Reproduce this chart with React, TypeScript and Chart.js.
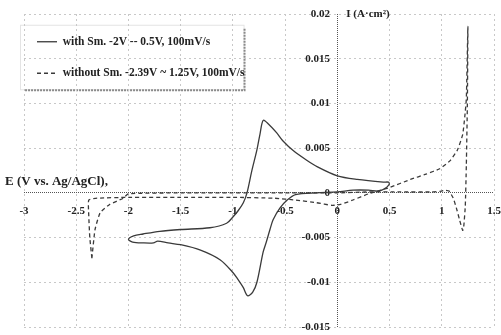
import React, { useEffect, useRef } from 'react';
import { Chart, registerables } from 'chart.js';

Chart.register(...registerables);

// ---- data ----
const withSmE = [
  0.5, 0.47, 0.4, 0.3, 0.15, 0.0, -0.2, -0.4, -0.48, -0.55, -0.615, -0.645, -0.68, -0.71, -0.77, -0.81,
  -0.86, -0.9, -0.95, -1.0, -1.12, -1.31, -1.5, -1.62, -1.72, -1.76, -1.86, -1.96, -2.0,
  -1.95, -1.86, -1.7, -1.5, -1.22, -1.06, -1.0, -0.95, -0.9, -0.865, -0.82, -0.77, -0.74, -0.71,
  -0.66, -0.58, -0.52, -0.42, -0.3, -0.19, 0.0, 0.19, 0.44, 0.49, 0.5,
];
const withSmI = [
  0.001, 0.0006, 0.0002, 0.0003, 0.0003, 0.0001, 0.0, -0.0002, -0.0008, -0.0017, -0.003, -0.0041, -0.0055, -0.0066, -0.01, -0.0111,
  -0.0115, -0.0106, -0.0097, -0.0089, -0.0075, -0.0064, -0.0058, -0.0056, -0.0054, -0.0056, -0.0056, -0.0055, -0.0052,
  -0.0048, -0.0046, -0.0043, -0.0041, -0.0039, -0.0034, -0.0027, -0.002, -0.0011, 0.0, 0.0024, 0.0048, 0.0066, 0.0081,
  0.0077, 0.0067, 0.0058, 0.0047, 0.0037, 0.0029, 0.0019, 0.0015, 0.0012, 0.0012, 0.001,
];
const withoutSmE = [
  -2.35, -2.37, -2.38, -2.38, -2.3, -2.0, -1.5, -1.0, -0.6, -0.4, -0.2, -0.05, 0.03, 0.15, 0.3, 0.5,
  0.7, 0.85, 0.98, 1.08, 1.15, 1.2, 1.22, 1.235, 1.25,
  1.245, 1.235, 1.225, 1.21, 1.2, 1.17, 1.14, 1.11, 1.07, 1.03, 1.0, 0.9, 0.6, 0.3, 0.0,
  -0.5, -1.0, -1.5, -2.0, -2.05, -2.18, -2.27, -2.32, -2.35,
];
const withoutSmI = [
  -0.0073, -0.005, -0.0025, -0.0008, -0.0006, -0.0005, -0.0005, -0.0005, -0.0006, -0.0008, -0.0011, -0.0014, -0.0013, -0.0008, -0.0001, 0.0006,
  0.0015, 0.0021, 0.0027, 0.0036, 0.0048, 0.0065, 0.0085, 0.0105, 0.0186,
  0.01, 0.003, -0.0015, -0.0038, -0.0042, -0.003, -0.0017, -0.0006, 0.0002, 0.0003, 0.0002, 0.0001, 0.0001, 0.0001, 0.0,
  0.0, 0.0, 0.0, -0.0001, -0.0006, -0.0013, -0.0022, -0.0041, -0.0073,
];
const xTicks = [-3, -2.5, -2, -1.5, -1, -0.5, 0, 0.5, 1, 1.5];
const yTicks = [-0.015, -0.01, -0.005, 0, 0.005, 0.01, 0.015, 0.02];
const seriesLabels = ['with Sm. -2V -- 0.5V, 100mV/s', 'without Sm. -2.39V ~ 1.25V, 100mV/s'];
const xTitle = 'E (V vs. Ag/AgCl),';
const yTitle = 'I (A·cm²)';

const FONT = '"Liberation Serif", "Times New Roman", serif';
const INK = '#222';
const LINE = '#3a3a3a';
const LEGEND_SHIFT = { dx: -7, dy: 16 };

const decorPlugin = {
  id: 'decor',
  afterLayout(chart: any) {
    const lg = chart.legend;
    if (!lg) return;
    lg.left += LEGEND_SHIFT.dx;
    lg.right += LEGEND_SHIFT.dx;
    lg.top += LEGEND_SHIFT.dy;
    lg.bottom += LEGEND_SHIFT.dy;
    (lg.legendHitBoxes || []).forEach((h: any) => {
      h.left += LEGEND_SHIFT.dx;
      h.top += LEGEND_SHIFT.dy;
    });
  },
  beforeDraw(chart: any) {
    const ctx = chart.ctx;
    ctx.save();
    ctx.fillStyle = '#fff';
    ctx.fillRect(0, 0, chart.width, chart.height);
    const lg = chart.legend;
    if (lg && lg.legendHitBoxes && lg.legendHitBoxes.length) {
      const hbs = lg.legendHitBoxes;
      let right = 0;
      hbs.forEach((h: any) => { right = Math.max(right, h.left + h.width); });
      const first = hbs[0];
      const last = hbs[hbs.length - 1];
      const l = first.left - 10;
      const t = first.top + first.height / 2 - 17;
      const r = right + 6;
      const b = last.top + last.height / 2 + 16;
      ctx.strokeStyle = '#e4e4e4';
      ctx.lineWidth = 1;
      ctx.strokeRect(l + 0.5, t + 0.5, r - l, b - t);
      ctx.strokeStyle = '#8a8a8a';
      ctx.lineWidth = 2;
      ctx.setLineDash([2, 1]);
      ctx.beginPath();
      ctx.moveTo(r + 1, t + 4);
      ctx.lineTo(r + 1, b + 1);
      ctx.lineTo(l + 4, b + 1);
      ctx.stroke();
    }
    ctx.restore();
  },
  afterDraw(chart: any) {
    const ctx = chart.ctx;
    const xs = chart.scales.x;
    const ys = chart.scales.y;
    ctx.save();
    ctx.fillStyle = INK;
    ctx.textBaseline = 'middle';
    ctx.textAlign = 'left';
    ctx.font = `bold 13px ${FONT}`;
    ctx.fillText(xTitle, 5, ys.getPixelForValue(0) - 11);
    ctx.font = `bold 11px ${FONT}`;
    ctx.fillText(yTitle, xs.getPixelForValue(0) + 9, ys.getPixelForValue(0.02));
    ctx.restore();
  },
};

const gridColor = (c: any) => (c.tick && c.tick.value === 0 ? '#555' : '#c8c8c8');
const gridDash = (c: any) => (c.tick && c.tick.value === 0 ? [1, 1] : [2, 3]);
const fmt = (v: any) => String(Number(Number(v).toFixed(3)));

export default function App() {
  const ref = useRef<HTMLCanvasElement | null>(null);
  useEffect(() => {
    document.body.style.margin = '0';
    if (!ref.current) return;
    const chart = new Chart(ref.current, {
      type: 'scatter',
      data: {
        datasets: [
          {
            label: seriesLabels[0],
            data: withSmE.map((e, i) => ({ x: e, y: withSmI[i] })),
            showLine: true,
            borderColor: LINE,
            backgroundColor: LINE,
            borderWidth: 1.3,
            pointRadius: 0,
            tension: 0.3,
          },
          {
            label: seriesLabels[1],
            data: withoutSmE.map((e, i) => ({ x: e, y: withoutSmI[i] })),
            showLine: true,
            borderColor: LINE,
            backgroundColor: LINE,
            borderWidth: 1.3,
            borderDash: [4, 3],
            pointRadius: 0,
            tension: 0.15,
          },
        ],
      },
      options: {
        responsive: false,
        animation: false,
        layout: { padding: { left: 24, right: 7, top: 14, bottom: 8 } },
        scales: {
          x: {
            type: 'linear',
            min: -3,
            max: 1.5,
            position: { y: 0 } as any,
            afterFit: (s: any) => {
              s.height = 0;
              s.paddingLeft = 0;
              s.paddingRight = 0;
              s.paddingTop = 0;
              s.paddingBottom = 0;
            },
            afterBuildTicks: (s: any) => { s.ticks = xTicks.map((v) => ({ value: v })); },
            grid: { color: gridColor, lineWidth: 1, drawTicks: false },
            border: { display: false, dash: gridDash } as any,
            ticks: {
              callback: fmt,
              padding: 12,
              maxRotation: 0,
              autoSkip: false,
              color: INK,
              font: { family: FONT, size: 11, weight: 'bold' },
            },
          },
          y: {
            type: 'linear',
            min: -0.015,
            max: 0.02,
            position: { x: -0.07 } as any,
            afterFit: (s: any) => {
              s.width = 0;
              s.paddingLeft = 0;
              s.paddingRight = 0;
              s.paddingTop = 0;
              s.paddingBottom = 0;
            },
            afterBuildTicks: (s: any) => { s.ticks = yTicks.map((v) => ({ value: v })); },
            grid: { color: gridColor, lineWidth: 1, drawTicks: false },
            border: { display: false, dash: gridDash } as any,
            ticks: {
              callback: fmt,
              autoSkip: false,
              color: INK,
              font: { family: FONT, size: 11, weight: 'bold' },
            },
          },
        },
        plugins: {
          tooltip: { enabled: false },
          legend: {
            position: 'chartArea' as any,
            align: 'start',
            labels: {
              usePointStyle: true,
              pointStyle: 'line',
              pointStyleWidth: 20,
              padding: 20,
              color: INK,
              font: { family: FONT, size: 11.5, weight: 'bold' },
              generateLabels: (chart: any) =>
                chart.data.datasets.map((ds: any, i: number) => ({
                  text: ds.label,
                  fillStyle: ds.borderColor,
                  strokeStyle: ds.borderColor,
                  fontColor: INK,
                  lineWidth: 1.3,
                  lineDash: ds.borderDash || [],
                  pointStyle: 'line',
                  hidden: false,
                  datasetIndex: i,
                })),
            },
          },
        },
      },
      plugins: [decorPlugin],
    });
    return () => chart.destroy();
  }, []);
  return (
    <div style={{ width: 501, height: 335 }}>
      <canvas ref={ref} width={501} height={335} />
    </div>
  );
}
